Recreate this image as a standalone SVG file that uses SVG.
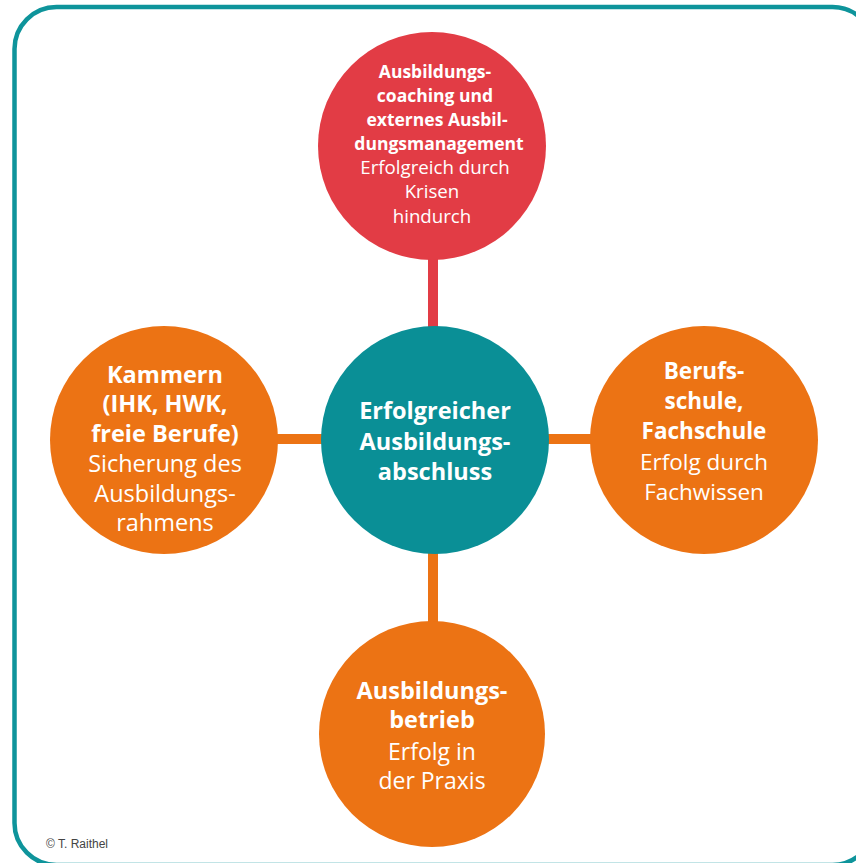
<svg xmlns="http://www.w3.org/2000/svg" width="856" height="863" viewBox="0 0 856 863">
<style>
.b{font-family:"Open Sans","Noto Sans","Liberation Sans",sans-serif;font-weight:700;fill:#fff;text-anchor:middle}
.r{font-family:"Open Sans","Noto Sans","Liberation Sans",sans-serif;font-weight:400;fill:#fff;text-anchor:middle}
.conn{stroke-width:10;fill:none}
</style>
<rect x="0" y="0" width="856" height="863" fill="#fff"/>
<rect x="14.5" y="7" width="860" height="858" rx="42" fill="none" stroke="#0e949b" stroke-width="4.5"/>
<g id="connectors">
<line class="conn" x1="433" y1="250" x2="433" y2="335" stroke="#e23c45"/>
<line class="conn" x1="270" y1="439" x2="330" y2="439" stroke="#ec7314"/>
<line class="conn" x1="540" y1="439" x2="600" y2="439" stroke="#ec7314"/>
<line class="conn" x1="433" y1="545" x2="433" y2="630" stroke="#ec7314"/>
</g>
<g id="top">
<circle cx="432" cy="146" r="114" fill="#e23c45"/>
<text class="b" font-size="17.5"><tspan x="435" y="78">Ausbildungs-</tspan><tspan x="435" y="102">coaching und</tspan><tspan x="437" y="126">externes Ausbil-</tspan><tspan x="439" y="150">dungsmanagement</tspan></text>
<text class="r" font-size="18.7"><tspan x="435" y="174">Erfolgreich durch</tspan><tspan x="432" y="198">Krisen</tspan><tspan x="432" y="223">hindurch</tspan></text>
</g>
<g id="center">
<circle cx="435" cy="440" r="114" fill="#0a8f96"/>
<text class="b" font-size="23.5"><tspan x="435" y="419">Erfolgreicher</tspan><tspan x="435" y="449.5">Ausbildungs-</tspan><tspan x="435" y="480">abschluss</tspan></text>
</g>
<g id="left">
<circle cx="164" cy="440" r="114" fill="#ec7314"/>
<text class="b" font-size="23.5"><tspan x="165" y="383">Kammern</tspan><tspan x="165" y="412">(IHK, HWK,</tspan><tspan x="165" y="442">freie Berufe)</tspan></text>
<text class="r" font-size="23.5"><tspan x="165" y="472">Sicherung des</tspan><tspan x="165" y="502">Ausbildungs-</tspan><tspan x="165" y="531">rahmens</tspan></text>
</g>
<g id="right">
<circle cx="704" cy="440" r="114" fill="#ec7314"/>
<text class="b" font-size="22.5"><tspan x="704" y="379">Berufs-</tspan><tspan x="704" y="409">schule,</tspan><tspan x="704" y="439">Fachschule</tspan></text>
<text class="r" font-size="22.5"><tspan x="704" y="470">Erfolg durch</tspan><tspan x="704" y="500">Fachwissen</tspan></text>
</g>
<g id="bottom">
<circle cx="432" cy="734" r="113" fill="#ec7314"/>
<text class="b" font-size="23.5"><tspan x="432" y="699">Ausbildungs-</tspan><tspan x="432" y="728">betrieb</tspan></text>
<text class="r" font-size="23"><tspan x="432" y="760">Erfolg in</tspan><tspan x="432" y="789">der Praxis</tspan></text>
</g>
<text x="46" y="848" font-family="Liberation Sans,Arial,sans-serif" font-size="12" fill="#444">© T. Raithel</text>
</svg>
